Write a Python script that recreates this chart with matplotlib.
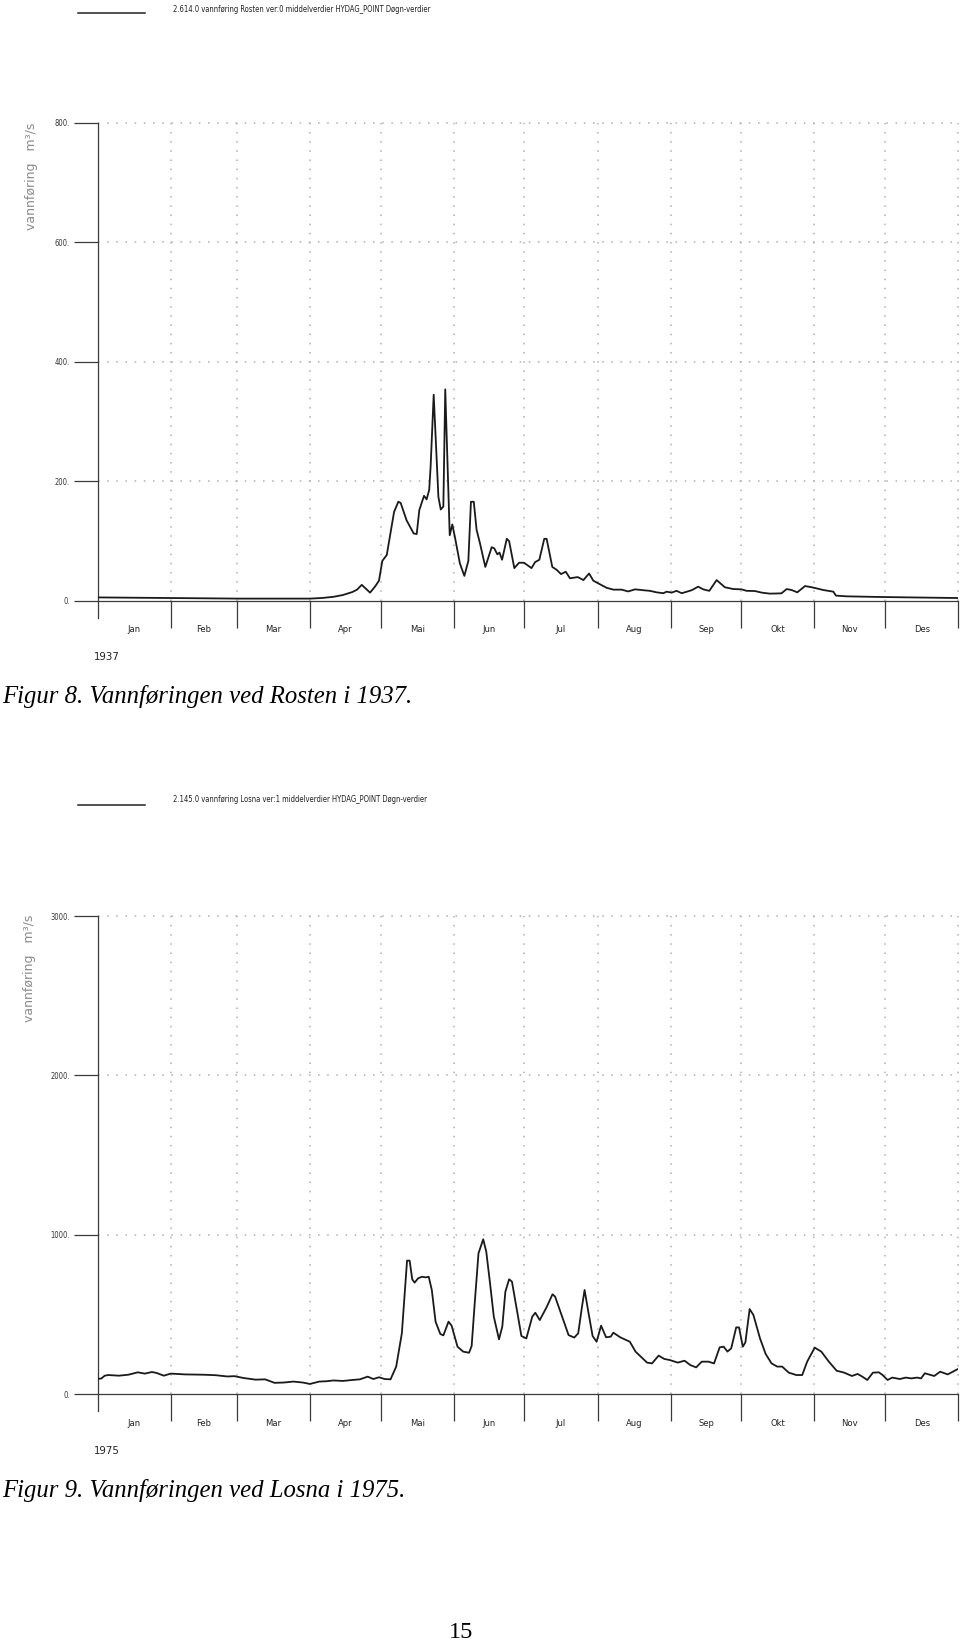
import numpy as np
import matplotlib
matplotlib.use("agg")
import matplotlib.pyplot as plt
from matplotlib import font_manager
from matplotlib.lines import Line2D
from matplotlib.transforms import blended_transform_factory

# month axis shared by both panels
month_names = ["Jan", "Feb", "Mar", "Apr", "Mai", "Jun", "Jul", "Aug", "Sep", "Okt", "Nov", "Des"]
month_edges = [0, 31, 59, 90, 120, 151, 181, 212, 243, 273, 304, 334, 365]

# figur 8 - Rosten 1937
rosten_title = "2.614.0 vannføring Rosten ver:0 middelverdier HYDAG_POINT Døgn-verdier"
rosten_year = "1937"
rosten_caption = "Figur 8. Vannføringen ved Rosten i 1937."
rosten_yticks = [0, 200, 400, 600, 800]
rosten_day = [0, 30, 60, 90, 95, 100, 104, 108, 110, 112,
              115.5, 117.6, 119.3, 120.7, 122.6, 125.7, 127.5, 128.5, 131, 134,
              135.3, 136.4, 138.4, 139.5, 140.6, 141.2, 142.5, 144.5, 145.5, 146.6,
              147.4, 149.3, 150.4, 151.5, 153.6, 155.5, 157.2, 158.3, 159.5, 160.7,
              162.1, 164.4, 167.1, 168.2, 169.5, 170.4, 171.5, 173.5, 174.5, 176.7,
              178.7, 180.8, 184, 185.5, 187.3, 189.4, 190.4, 192.8, 194.7, 196.5,
              198.5, 200.3, 203.6, 206, 208.4, 210.2, 213, 215.9, 218.7, 222.2,
              225, 227.9, 231.5, 234.2, 237, 239.9, 241.3, 243.4, 245.5, 247.7,
              251.9, 254.7, 256.8, 259.4, 262.5, 266, 269.6, 273.1, 275.2, 278.7,
              281.6, 285.1, 290, 292.2, 294.3, 296.7, 300, 302.8, 305, 307.7,
              312, 313.1, 317.6, 331.8, 345, 364.5]
rosten_flow = [6, 5, 4, 4, 5, 7, 10, 15, 19, 27,
               14, 24, 34, 67, 77, 149, 166, 164, 135, 113,
               112, 152, 176, 170, 186, 225, 345, 174, 153, 158,
               354, 110, 128, 107, 63, 42, 67, 166, 166, 119,
               97, 57, 90, 88, 78, 81, 69, 104, 100, 55,
               64, 64, 55, 65, 69, 104, 104, 57, 52, 45,
               49, 38, 40, 35, 46, 34, 28, 22, 19, 19,
               16, 19.5, 18, 17, 14.5, 13, 15.6, 14, 17, 13,
               18, 24, 19.5, 17, 35, 23, 20, 19.5, 17, 16.7,
               14, 12.3, 12.8, 20, 18.4, 14.5, 25, 23, 21, 18.4,
               15.6, 9, 7.8, 6.7, 6, 5]

# figur 9 - Losna 1975
losna_title = "2.145.0 vannføring Losna ver:1 middelverdier HYDAG_POINT Døgn-verdier"
losna_year = "1975"
losna_caption = "Figur 9. Vannføringen ved Losna i 1975."
losna_yticks = [0, 1000, 2000, 3000]
losna_day = [0, 1.5, 3, 4.5, 9, 13, 17, 20, 23, 25,
             28, 31, 37, 45, 50, 55, 58, 62, 67, 71,
             75, 79, 83, 87, 90, 94, 97, 100, 104, 108,
             111.2, 114.5, 116.9, 119.3, 121.7, 124.2, 126.6, 129, 131.2, 132.3,
             133.4, 134.4, 135.9, 137.5, 139.1, 140.4, 141.7, 143.3, 145.3, 146.6,
             148.8, 150.1, 152.6, 155, 157.5, 158.6, 159.9, 161.5, 163.5, 164.8,
             166.4, 168, 170.2, 171.6, 172.9, 174.5, 175.7, 177.8, 179.7, 181.8,
             184.3, 185.6, 187.5, 190.5, 192.9, 194, 197, 199.7, 202.1, 203.8,
             205.4, 206.5, 208.2, 209.9, 211.6, 213.5, 215.6, 217.6, 218.7, 221.6,
             225.7, 228.1, 233, 235.1, 237.9, 240.3, 242.7, 246, 248.9, 251.3,
             253.8, 256.2, 259, 261.4, 263.8, 265.5, 267.1, 268.7, 270.8, 272,
             273.6, 274.7, 276.5, 278.1, 280.9, 283.3, 285.8, 288.2, 290.3, 293.1,
             296.3, 298.8, 300.9, 304.1, 306.9, 310.1, 313.4, 316.6, 319.9, 322.3,
             324.3, 326.4, 328.8, 331.3, 332.9, 335, 337, 340.2, 342.7, 345.1,
             347.5, 349.2, 350.8, 354.8, 357.3, 360.5, 364.6]
losna_flow = [95, 97, 115, 119, 115, 121, 136, 128, 138, 132,
              115, 128, 123, 121, 118, 110, 112, 100, 90, 92,
              70, 72, 78, 72, 63, 78, 80, 85, 82, 88,
              92, 109, 94, 105, 94, 92, 172, 381, 837, 837,
              720, 699, 726, 736, 732, 736, 653, 454, 377, 368,
              454, 429, 297, 266, 259, 301, 569, 883, 971, 893,
              695, 485, 343, 423, 642, 720, 705, 527, 364, 349,
              485, 510, 464, 548, 626, 611, 485, 370, 354, 381,
              548, 653, 506, 364, 328, 429, 356, 360, 385, 356,
              328, 266, 197, 192, 241, 220, 213, 197, 209, 182,
              167, 203, 203, 192, 293, 297, 266, 287, 418, 418,
              297, 324, 533, 496, 349, 251, 192, 172, 172, 134,
              119, 119, 203, 291, 266, 203, 146, 134, 113, 126,
              109, 88, 134, 136, 119, 88, 103, 94, 103, 98,
              103, 98, 130, 113, 140, 123, 155]

page_number = "15"
ylabel_text = "vannføring   m³/s"

# pick a narrow sans if there is one
_names = {f.name for f in font_manager.fontManager.ttflist}
if "Liberation Sans Narrow" in _names:
    narrow = {"family": "Liberation Sans Narrow"}
    fs = 1.0
else:
    narrow = {"family": "DejaVu Sans", "stretch": "condensed"}
    fs = 0.82

W, H = 960, 1643
fig = plt.figure(figsize=(W / 100, H / 100), dpi=100)
fig.patch.set_facecolor("white")

AX_LEFT, AX_RIGHT = 97.7, 958.3
axis_col = "#3a3a3a"
grid_col = "#b0b0b0"


def fy(py):
    return 1 - py / H


def draw_panel(top_px, bot_px, day, flow, yticks, title, year, caption,
               legend_y, title_y, ylab_x, ylab_y, year_y, cap_y):
    ax_h = bot_px - top_px
    ax = fig.add_axes([AX_LEFT / W, fy(bot_px), (AX_RIGHT - AX_LEFT) / W, ax_h / H])
    ax.plot(day, flow, color="#1a1a1a", lw=1.3, solid_joinstyle="round", zorder=5)
    ax.set_xlim(0, 365)
    ax.set_ylim(0, yticks[-1])
    for s in ["top", "right", "left"]:
        ax.spines[s].set_visible(False)
    ax.spines["bottom"].set_color(axis_col)
    ax.spines["bottom"].set_linewidth(0.9)

    # y-axis line runs a little below the x-axis
    ax.plot([0, 0], [1, -17 / ax_h], transform=ax.transAxes, clip_on=False,
            color=axis_col, lw=0.9)

    ax.set_yticks(yticks)
    ax.set_yticklabels([f"{v}." for v in yticks], fontsize=6.6 * fs, **narrow)
    ax.tick_params(axis="y", length=17.6, width=0.9, color=axis_col, pad=2.5,
                   labelcolor="#333333")
    ax.set_xticks(month_edges[1:])
    ax.set_xticklabels([])
    ax.tick_params(axis="x", length=19.5, width=0.9, color=axis_col)

    # dotted grid
    for v in yticks[1:]:
        ax.axhline(v, color=grid_col, lw=1.1, ls=(0, (1, 5)), zorder=0, clip_on=False)
    for d in month_edges[1:]:
        ax.axvline(d, color=grid_col, lw=1.1, ls=(0, (1, 5)), zorder=0, clip_on=False)

    tr = blended_transform_factory(ax.transData, ax.transAxes)
    for i, name in enumerate(month_names):
        mid = (month_edges[i] + month_edges[i + 1]) / 2
        ax.text(mid, -29 / ax_h, name, transform=tr, ha="center", va="center",
                fontsize=8.2 * fs, color="#222222", **narrow)

    # header legend line and series name
    fig.add_artist(Line2D([78 / W, 145 / W], [fy(legend_y), fy(legend_y)],
                          color="#222222", lw=1.1))
    fig.text(173 / W, fy(title_y), title, ha="left", va="center",
             fontsize=6.75 * fs, color="#222222", **narrow)

    fig.text(ylab_x / W, fy(ylab_y), ylabel_text, rotation=90, ha="center",
             va="center", fontsize=9, color="#8a8a8a", family="DejaVu Sans")
    fig.text(107 / W, fy(year_y), year, ha="center", va="center",
             fontsize=10 * fs, color="#222222", **narrow)
    fig.text(2 / W, fy(cap_y), caption, ha="left", va="center", fontsize=17.8,
             fontstyle="italic", family="Liberation Serif", color="black")
    return ax


draw_panel(122.7, 601, rosten_day, rosten_flow, rosten_yticks, rosten_title,
           rosten_year, rosten_caption, legend_y=13, title_y=9.5,
           ylab_x=31, ylab_y=176, year_y=657, cap_y=697)

draw_panel(916, 1394, losna_day, losna_flow, losna_yticks, losna_title,
           losna_year, losna_caption, legend_y=805, title_y=800,
           ylab_x=29, ylab_y=968, year_y=1451, cap_y=1490)

fig.text(461 / W, fy(1632), page_number, ha="center", va="center", fontsize=17.5,
         family="Liberation Serif", color="black")

fig.savefig("out.png", dpi=100, facecolor="white")
